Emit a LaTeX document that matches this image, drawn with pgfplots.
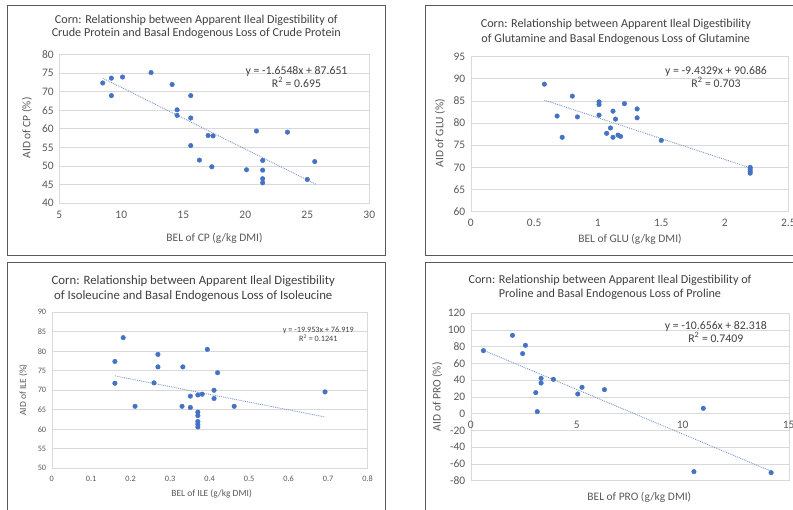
\documentclass[border=0pt]{standalone}
\usepackage{fontspec}
\setmainfont{Carlito}
\usepackage{pgfplots}
\pgfplotsset{compat=1.18}
\definecolor{mk}{HTML}{4472C4}
\definecolor{tl}{HTML}{7F96C8}
\definecolor{gtxt}{HTML}{595959}
\definecolor{dtxt}{HTML}{404040}
\definecolor{grd}{HTML}{D9D9D9}
\definecolor{brd}{HTML}{595959}
\pgfplotsset{
  excel/.style={
    scale only axis,
    anchor=south west,
    axis line style={draw=grd},
    ymajorgrids=true,
    major grid style={draw=grd, line width=0.7bp},
    tick style={draw=none},
    /pgf/number format/assume math mode=true,
    ticklabel style={text=gtxt, font=\fontsize{11.5}{13}\selectfont},
    xticklabel style={yshift=-4bp},
    yticklabel style={xshift=-2bp},
    clip=false,
  },
  pts/.style={only marks, mark=*, mark size=2.3bp, mark options={draw=mk, fill=mk}},
  trend/.style={no marks, draw=tl, line width=0.9bp, densely dotted},
}
\begin{document}
\begin{tikzpicture}
\useasboundingbox (0,0) rectangle (793bp,510bp);
% panel frames
\draw[brd, line width=0.9bp] (7bp,254.7bp) rectangle (385.7bp,505bp);
\draw[brd, line width=0.9bp] (800bp,254.7bp) -- (425bp,254.7bp) -- (425bp,505bp) -- (800bp,505bp);
\draw[brd, line width=0.9bp] (7bp,-5bp) -- (7bp,247.7bp) -- (385.7bp,247.7bp) -- (385.7bp,-5bp);
\draw[brd, line width=0.9bp] (800bp,247.7bp) -- (425bp,247.7bp) -- (425bp,-5bp);

% ---------- Panel 1: CP ----------
\begin{axis}[excel, at={(59.3bp,306.7bp)}, width=310bp, height=149bp,
  xmin=5, xmax=30, xtick={5,10,15,20,25,30},
  ymin=40, ymax=80, ytick={40,45,50,55,60,65,70,75,80}]
\addplot[trend] coordinates {(8.5,73.6) (25.7,45.1)};
\addplot[pts] coordinates {
(8.5,72.3) (9.2,73.6) (9.2,68.9) (10.1,73.9) (12.4,75.1) (14.1,71.9)
(15.6,68.9) (14.5,65.1) (14.5,63.6) (15.6,62.9) (15.6,55.5) (16.3,51.6)
(17.0,58.2) (17.4,58.1) (17.3,49.8) (20.1,49.0) (20.9,59.4) (21.4,51.5)
(21.4,48.9) (21.4,46.6) (21.4,45.5) (23.4,59.1) (25.0,46.4) (25.6,51.2)};
\end{axis}
\node[text=dtxt, align=center, font=\fontsize{12.2}{13}\selectfont] at (196.3bp,483.5bp)
  {Corn: Relationship between Apparent Ileal Digestibility of\\Crude Protein and Basal Endogenous Loss of Crude Protein};
\node[text=gtxt, font=\fontsize{11.5}{13}\selectfont] at (214.5bp,272bp) {BEL of CP (g/kg DMI)};
\node[text=gtxt, rotate=90, font=\fontsize{11.5}{13}\selectfont] at (27bp,382bp) {AID of CP (\%)};
\node[text=dtxt, align=center, font=\fontsize{11.8}{12.5}\selectfont] at (296.5bp,433bp)
  {y = -1.6548x + 87.651\\R\textsuperscript{2} = 0.695};

% ---------- Panel 2: GLU ----------
\begin{axis}[excel, at={(470.7bp,298.3bp)}, width=317.6bp, height=155bp,
  xmin=0, xmax=2.5, xtick={0,0.5,1,1.5,2,2.5},
  ymin=60, ymax=95, ytick={60,65,70,75,80,85,90,95}]
\addplot[trend] coordinates {(0.58,85.2) (2.2,69.9)};
\addplot[pts] coordinates {
(0.58,88.8) (0.80,86.1) (0.68,81.6) (0.84,81.4) (0.72,76.8) (1.01,84.8)
(1.01,84.2) (1.01,81.8) (1.12,82.7) (1.21,84.4) (1.31,83.2) (1.31,81.2)
(1.14,80.9) (1.10,78.9) (1.07,77.7) (1.12,76.8) (1.16,77.3) (1.18,77.0)
(1.50,76.1) (2.2,70.0) (2.2,69.6) (2.2,69.1) (2.2,68.7)};
\end{axis}
\node[text=dtxt, align=center, font=\fontsize{12.2}{15}\selectfont] at (615.8bp,478.5bp)
  {Corn: Relationship between Apparent Ileal Digestibility\\of Glutamine and Basal Endogenous Loss of Glutamine};
\node[text=gtxt, font=\fontsize{11.5}{13}\selectfont] at (630bp,270.7bp) {BEL of GLU (g/kg DMI)};
\node[text=gtxt, rotate=90, font=\fontsize{11.5}{13}\selectfont] at (440bp,376.7bp) {AID of GLU (\%)};
\node[text=dtxt, align=center, font=\fontsize{11.8}{12.5}\selectfont] at (716bp,433bp)
  {y = -9.4329x + 90.686\\R\textsuperscript{2} = 0.703};

% ---------- Panel 3: ILE ----------
\begin{axis}[excel, at={(51.7bp,41.7bp)}, width=316bp, height=156bp,
  ticklabel style={font=\fontsize{8.3}{10}\selectfont},
  xmin=0, xmax=0.8, xtick={0,0.1,0.2,0.3,0.4,0.5,0.6,0.7,0.8},
  ymin=50, ymax=90, ytick={50,55,60,65,70,75,80,85,90}]
\addplot[trend] coordinates {(0.16,73.7) (0.69,63.2)};
\addplot[pts] coordinates {
(0.160,77.4) (0.160,71.8) (0.181,83.5) (0.211,65.9) (0.259,71.9) (0.269,79.2)
(0.269,76.0) (0.332,76.0) (0.330,65.9) (0.351,68.5) (0.351,65.6) (0.370,68.8)
(0.381,69.0) (0.394,80.5) (0.411,70.0) (0.411,67.9) (0.420,74.5) (0.462,65.9)
(0.692,69.6) (0.370,64.4) (0.370,63.5) (0.370,62.0) (0.370,61.3) (0.370,60.6)};
\end{axis}
\node[text=dtxt, align=center, font=\fontsize{12.8}{15.7}\selectfont] at (193.3bp,221.2bp)
  {Corn: Relationship between Apparent Ileal Digestibility\\of Isoleucine and Basal Endogenous Loss of Isoleucine};
\node[text=gtxt, font=\fontsize{9.5}{11}\selectfont] at (211.7bp,15.7bp) {BEL of ILE (g/kg DMI)};
\node[text=gtxt, rotate=90, font=\fontsize{9.5}{11}\selectfont] at (23.3bp,120bp) {AID of ILE (\%)};
\node[text=dtxt, align=center, font=\fontsize{8.2}{9}\selectfont] at (318.3bp,175.5bp)
  {y = -19.953x + 76.919\\R\textsuperscript{2} = 0.1241};

% ---------- Panel 4: PRO ----------
\begin{axis}[excel, at={(470.7bp,29.3bp)}, width=318bp, height=167.4bp,
  xmin=0, xmax=15, xtick={0,5,10,15},
  xticklabel style={yshift=67bp},
  ymin=-80, ymax=120, ytick={-80,-60,-40,-20,0,20,40,60,80,100,120}]
\addplot[trend] coordinates {(0.6,75.9) (14.2,-69.0)};
\addplot[pts] coordinates {
(0.60,75.4) (1.97,93.7) (2.45,71.8) (2.58,81.8) (3.32,42.3) (3.32,36.7)
(3.07,25.2) (3.14,2.5) (3.90,41.1) (5.05,23.6) (5.25,31.6) (6.31,28.8)
(10.97,6.5) (10.53,-69.2) (14.17,-70.4)};
\end{axis}
\node[text=dtxt, align=center, font=\fontsize{12.2}{14}\selectfont] at (610bp,223bp)
  {Corn: Relationship between Apparent Ileal Digestibility of\\Proline and Basal Endogenous Loss of Proline};
\node[text=gtxt, font=\fontsize{11.5}{13}\selectfont] at (639.3bp,12.3bp) {BEL of PRO (g/kg DMI)};
\node[text=gtxt, rotate=90, font=\fontsize{11.5}{13}\selectfont] at (437.3bp,113.3bp) {AID of PRO (\%)};
\node[text=dtxt, align=center, font=\fontsize{11.8}{12.5}\selectfont] at (715.8bp,178bp)
  {y = -10.656x + 82.318\\R\textsuperscript{2} = 0.7409};
\end{tikzpicture}
\end{document}
